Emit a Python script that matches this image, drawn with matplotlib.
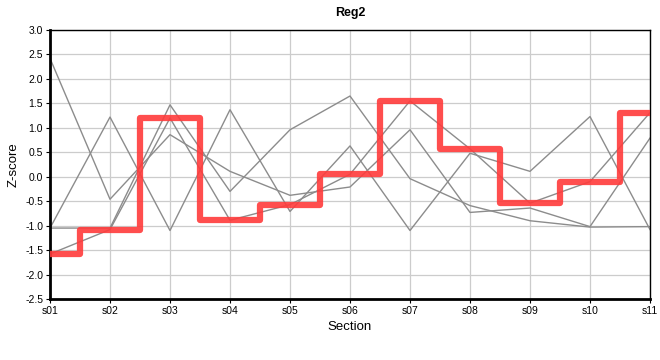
import matplotlib
matplotlib.use("Agg")
import matplotlib.pyplot as plt
import numpy as np

sections = ["s01", "s02", "s03", "s04", "s05", "s06", "s07", "s08", "s09", "s10", "s11"]
reg2 = [-1.58, -1.08, 1.20, -0.89, -0.57, 0.05, 1.55, 0.57, -0.54, -0.10, 1.31]
other_a = [-1.05, -1.05, 1.47, -0.30, 0.96, 1.65, -0.04, -0.59, -0.90, -1.03, -1.02]
other_b = [-1.05, 1.22, -1.10, 1.37, -0.71, 0.63, -1.10, 0.48, 0.11, 1.23, -1.08]
other_c = [2.42, -0.46, 0.86, 0.11, -0.38, -0.21, 0.96, -0.73, -0.64, -1.02, 0.79]
yticks = [-2.5, -2.0, -1.5, -1.0, -0.5, 0.0, 0.5, 1.0, 1.5, 2.0, 2.5, 3.0]

plt.rcParams['font.family'] = ['Liberation Sans', 'DejaVu Sans']

fig = plt.figure(figsize=(6.6, 3.6), dpi=100)
ax = fig.add_axes([50/660, 1-299/360, 600/660, 269/360])

x = np.arange(len(sections))
for series in (reg2, other_a, other_b, other_c):
    ax.plot(x, series, color='#8c8c8c', lw=1.0, zorder=2)
ax.plot(x, reg2, drawstyle='steps-mid', color='#ff3b3b', alpha=0.9, lw=4.5,
        solid_joinstyle='round', solid_capstyle='butt', zorder=3)

ax.set_xlim(0, len(sections) - 1)
ax.set_ylim(-2.5, 3.0)
ax.set_xticks(x)
ax.set_xticklabels(sections)
ax.set_yticks(yticks)
ax.set_yticklabels([f"{v:.1f}" for v in yticks])
ax.grid(True, color='#cccccc', lw=0.9, zorder=0)
ax.set_axisbelow(True)
ax.tick_params(axis='both', labelsize=7.5, length=3, width=0.8, pad=2)

for side in ('left', 'bottom'):
    ax.spines[side].set_linewidth(2.0)
for side in ('top', 'right'):
    ax.spines[side].set_linewidth(1.0)

ax.set_title("Reg2", fontsize=9, fontweight='bold', pad=10)
ax.set_xlabel("Section", fontsize=9.5, labelpad=4)
ax.set_ylabel("Z-score", fontsize=9.5, labelpad=4)

fig.savefig("out.png", dpi=100)
